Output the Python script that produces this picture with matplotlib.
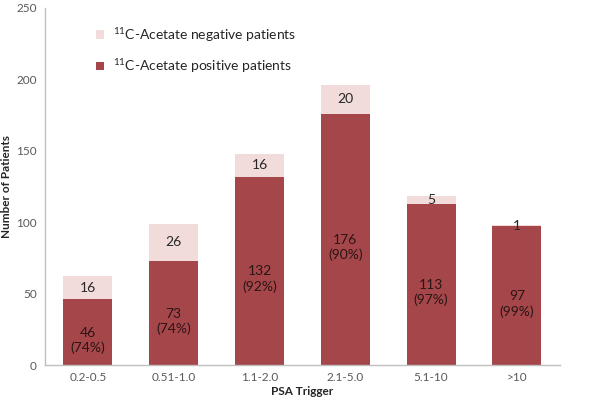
import matplotlib
matplotlib.use("Agg")
import matplotlib.pyplot as plt
from matplotlib.patches import Patch

categories = ["0.2-0.5", "0.51-1.0", "1.1-2.0", "2.1-5.0", "5.1-10", ">10"]
positive = [46, 73, 132, 176, 113, 97]
negative = [16, 26, 16, 20, 5, 1]
pct_labels = ["74%", "74%", "92%", "90%", "97%", "99%"]
yticks = [0, 50, 100, 150, 200, 250]

FONT = ["Lato", "DejaVu Sans"]
plt.rcParams["font.family"] = FONT
plt.rcParams["mathtext.fontset"] = "custom"
plt.rcParams["mathtext.rm"] = "Lato"
plt.rcParams["mathtext.it"] = "Lato:italic"
plt.rcParams["mathtext.bf"] = "Lato:bold"

pos_color = "#A5474A"
neg_color = "#F2DCDB"
text_dark = "#262626"
tick_color = "#595959"

fig = plt.figure(figsize=(6, 4), dpi=100)
ax = fig.add_axes([0.075, 0.0875, 0.858, 0.8925])

x = list(range(len(categories)))
w = 0.57
ax.bar(x, positive, width=w, color=pos_color, zorder=2)
ax.bar(x, negative, width=w, bottom=positive, color=neg_color, zorder=2)

for xi, p, n, pc in zip(x, positive, negative, pct_labels):
    ax.annotate(f"{p}\n({pc})", xy=(xi, p / 2), xytext=(0, -6), textcoords="offset points",
                ha="center", va="center", fontsize=10, color="#2b1414", linespacing=1.25)
    ax.text(xi, p + n / 2, str(n), ha="center", va="center", fontsize=10, color=text_dark)

ax.set_xlim(-0.5, len(categories) - 0.5)
ax.set_ylim(0, 250)
ax.set_yticks(yticks)
ax.set_xticks(x)
ax.set_xticklabels(categories)
ax.tick_params(axis="both", length=0, labelsize=8.5, colors=tick_color)
ax.tick_params(axis="x", pad=5)
ax.tick_params(axis="y", pad=6)

for s in ["top", "right"]:
    ax.spines[s].set_visible(False)
for s in ["left", "bottom"]:
    ax.spines[s].set_color("#BFBFBF")
    ax.spines[s].set_linewidth(1.0)

ax.set_xlabel("PSA Trigger", fontsize=8.5, fontweight="bold", color=text_dark, labelpad=2)
ax.set_ylabel("Number of Patients", fontsize=8.5, fontweight="bold", color=text_dark, labelpad=3)

handles = [Patch(facecolor=neg_color, edgecolor="none"), Patch(facecolor=pos_color, edgecolor="none")]
labels = [r"$^{11}$C-Acetate negative patients", r"$^{11}$C-Acetate positive patients"]
leg = ax.legend(handles, labels, loc="upper left", bbox_to_anchor=(0.075, 0.985), frameon=False,
                fontsize=10, handlelength=0.6, handleheight=0.6, handletextpad=0.6,
                labelspacing=0.95, labelcolor=text_dark)

fig.savefig("out.png", dpi=100)
